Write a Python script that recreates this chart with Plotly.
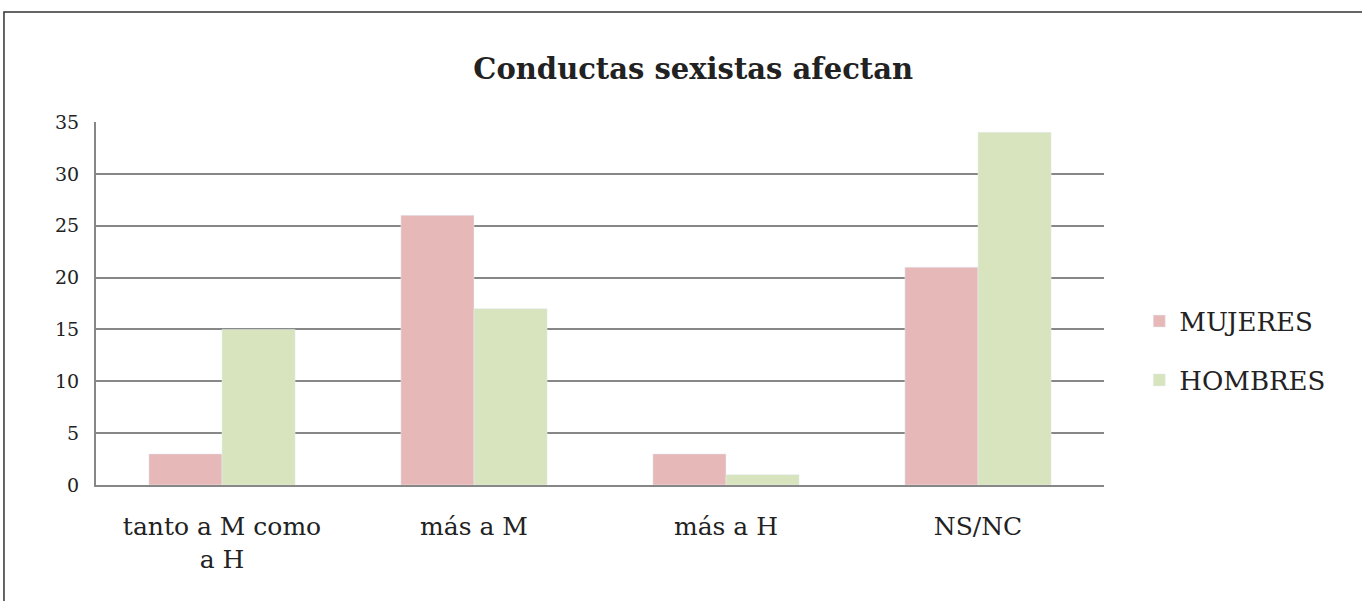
import plotly.graph_objects as go

# data
categories = ["tanto a M como<br>a H", "más a M", "más a H", "NS/NC"]
mujeres = [3, 26, 3, 21]
hombres = [15, 17, 1, 34]
y_ticks = [0, 5, 10, 15, 20, 25, 30, 35]

_PINK = "#E6B9B8"
_GREEN = "#D7E4BD"
_GRID = "#878787"
_FONT = "DejaVu Serif"

fig = go.Figure()
fig.add_trace(go.Bar(x=categories, y=mujeres, name="MUJERES",
                     marker_color=_PINK, legendgroup="m"))
fig.add_trace(go.Bar(x=categories, y=hombres, name="HOMBRES",
                     marker_color=_GREEN, legendgroup="h"))

# outer chart border (paper coords relative to the plot area)
fig.add_shape(type="rect", xref="paper", yref="paper",
              x0=-0.0913, x1=1.27, y0=-0.4, y1=1.303,
              line=dict(color="#333333", width=1.5), fillcolor="rgba(0,0,0,0)")

fig.update_layout(
    width=1362, height=601,
    margin=dict(l=96, r=258, t=122, b=116),
    paper_bgcolor="white", plot_bgcolor="white",
    barmode="group", bargap=0.42, bargroupgap=0,
    font=dict(family=_FONT, color="#222222"),
    title=dict(text="<b>Conductas sexistas afectan</b>", x=0.509, xanchor="center",
               y=0.885, yanchor="middle", font=dict(size=29, family=_FONT)),
    legend=dict(x=1.035, y=0.37, xanchor="left", yanchor="middle",
                font=dict(size=26), itemwidth=30, tracegroupgap=22),
    xaxis=dict(showline=True, linecolor=_GRID, linewidth=2, ticks="",
               tickfont=dict(size=25), showgrid=False, ticklabelstandoff=18),
    yaxis=dict(range=[0, 35], tickvals=y_ticks, showline=True, linecolor=_GRID,
               linewidth=2, showgrid=True, gridcolor=_GRID, gridwidth=1.5,
               zeroline=False, tickfont=dict(size=19), ticks="outside",
               ticklen=11, tickcolor="white"),
)

fig.write_html("out.html", config={"displayModeBar": False},
               post_script="document.body.style.margin='0';")
